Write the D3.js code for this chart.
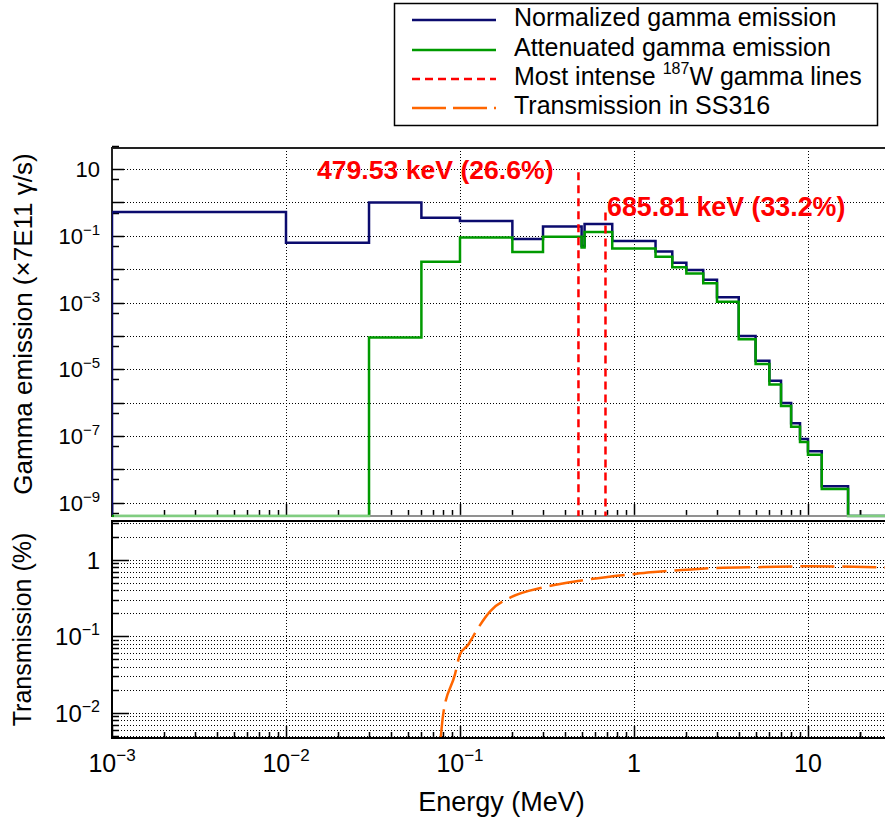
<!DOCTYPE html>
<html>
<head>
<meta charset="utf-8">
<script src="https://cdn.jsdelivr.net/npm/d3@7"></script>
<style>
  body { margin: 0; background: #fff; }
  svg { display: block; font-family: "Liberation Sans", Arial, Helvetica, sans-serif; }
</style>
</head>
<body>
<svg id="chart" width="885" height="821"></svg>
<script>
/* Data */
const ENERGY_EDGES = [0.001, 0.01, 0.03, 0.06, 0.1, 0.2, 0.3, 0.5, 0.52, 0.75, 1.33, 1.66,
    2.0, 2.5, 3.0, 4.0, 5.0, 6.0, 7.0, 8.0, 9.0, 10.0, 12.0, 17.0];
const NORMALIZED = [0.52, 0.062, 1.0, 0.35, 0.28, 0.08, 0.19, 0.05, 0.225, 0.07, 0.034, 0.0157,
    0.0095, 0.0048, 0.00145, 1.0e-4, 1.8e-5, 4.5e-6, 9.7e-7, 2.4e-7, 8.1e-8, 3.5e-8, 3.1e-9];
const ATTENUATED = [0, 0, 9e-5, 0.0168, 0.09, 0.033, 0.094, 0.045, 0.13, 0.042, 0.0237, 0.0114,
    0.0075, 0.0038, 0.00106, 7.9e-5, 1.44e-5, 3.5e-6, 8e-7, 1.9e-7, 6.6e-8, 2.75e-8, 2.6e-9];

const TRANS_ENERGY = [0.077, 0.080, 0.0935, 0.1, 0.1117, 0.119, 0.149, 0.198, 0.301, 0.49, 1.0, 1.24, 2.0, 3.0, 5.5, 10, 30];
const TRANSMISSION = [0.004, 0.0095, 0.0316, 0.058, 0.078, 0.1, 0.212, 0.326, 0.435, 0.532, 0.65, 0.684, 0.74, 0.78, 0.80, 0.82, 0.79];

const GAMMA_LINES = [0.47953, 0.68581];
const GAMMA_LINE_TOP = [8, 0.5];
const GAMMA_LABELS = ['479.53 keV (26.6%)', '685.81 keV (33.2%)'];

const X_DECADES = [-3, -2, -1, 0, 1];
const TOP_Y_LABELS = [1, -1, -3, -5, -7, -9];
const BOT_Y_LABELS = [0, -1, -2];

/* Layout */
const LEFT = 112, RIGHT = 891;
const TOP_T = 148, TOP_B = 516;
const BOT_T = 521, BOT_B = 738;

const svg = d3.select('#chart');

const x = d3.scaleLog().domain([1e-3, 30]).range([LEFT, RIGHT]);
const yTop = d3.scaleLog().domain([4e-10, 43]).range([TOP_B, TOP_T]);
const yBot = d3.scaleLog().domain([0.0047, 3.2]).range([BOT_B, BOT_T]);

// snap to pixel centre so 1px dotted lines stay crisp
const px = v => Math.round(v) + 0.5;

const defs = svg.append('defs');
defs.append('clipPath').attr('id', 'clipTop').append('rect')
    .attr('x', LEFT).attr('y', TOP_T).attr('width', RIGHT - LEFT).attr('height', TOP_B - TOP_T + 1.5);
defs.append('clipPath').attr('id', 'clipBot').append('rect')
    .attr('x', LEFT).attr('y', BOT_T).attr('width', RIGHT - LEFT).attr('height', BOT_B - BOT_T);

// helper: 10^k label with superscript
function powLabel(sel, k, supSize, supDy) {
    if (k === 0) { sel.text('1'); return; }
    if (k === 1) { sel.text('10'); return; }
    sel.append('tspan').text('10');
    sel.append('tspan').attr('font-size', supSize).attr('dy', supDy).text('\u2212' + Math.abs(k));
}

const GRID_DASH = '1,2';

/* ---------- top panel ---------- */
const topPanel = svg.append('g');

// grid
const topDecades = d3.range(-9, 2);
topPanel.selectAll('.hgrid').data(topDecades).enter().append('line')
    .attr('x1', LEFT).attr('x2', RIGHT)
    .attr('y1', d => px(yTop(Math.pow(10, d)))).attr('y2', d => px(yTop(Math.pow(10, d))))
    .attr('stroke', '#000').attr('stroke-width', 1).attr('stroke-dasharray', GRID_DASH)
    .attr('shape-rendering', 'crispEdges');
topPanel.selectAll('.vgrid').data(X_DECADES.slice(1)).enter().append('line')
    .attr('x1', d => px(x(Math.pow(10, d)))).attr('x2', d => px(x(Math.pow(10, d))))
    .attr('y1', TOP_T).attr('y2', TOP_B)
    .attr('stroke', '#000').attr('stroke-width', 1).attr('stroke-dasharray', GRID_DASH)
    .attr('shape-rendering', 'crispEdges');

// frame
topPanel.append('path').attr('d', `M${RIGHT},${TOP_T}H${LEFT}V${TOP_B}H${RIGHT}`)
    .attr('fill', 'none').attr('stroke', '#222').attr('stroke-width', 2);

// y ticks
topPanel.selectAll('.ytick').data(topDecades).enter().append('line')
    .attr('x1', LEFT).attr('x2', LEFT + 12)
    .attr('y1', d => px(yTop(Math.pow(10, d)))).attr('y2', d => px(yTop(Math.pow(10, d))))
    .attr('stroke', '#000').attr('stroke-width', 1.5);
topPanel.selectAll('.ytick5').data(d3.range(-10, 2)).enter().append('line')
    .attr('x1', LEFT).attr('x2', LEFT + 7)
    .attr('y1', d => px(yTop(5 * Math.pow(10, d)))).attr('y2', d => px(yTop(5 * Math.pow(10, d))))
    .attr('stroke', '#000').attr('stroke-width', 1.5);

// x ticks (both panels)
const xTicks = [];
X_DECADES.forEach(k => d3.range(1, 10).forEach(m => {
    const v = m * Math.pow(10, k);
    if (v <= 30) xTicks.push({ v: v, major: m === 1 });
}));
xTicks.push({ v: 20, major: false }, { v: 30, major: false });

function drawXTicks(g, yBase) {
    g.selectAll('.xt').data(xTicks).enter().append('line')
        .attr('x1', d => px(x(d.v))).attr('x2', d => px(x(d.v)))
        .attr('y1', yBase).attr('y2', d => yBase - (d.major ? 12 : 6))
        .attr('stroke', '#000').attr('stroke-width', 1.5);
}
drawXTicks(topPanel, TOP_B);

// histograms (drawn over the frame, like the original)
function stepPoints(vals, floorY) {
    const pts = [[x(ENERGY_EDGES[0]), floorY]];
    vals.forEach((v, i) => {
        const yy = v > 0 ? yTop(v) : floorY;
        pts.push([x(ENERGY_EDGES[i]), yy]);
        pts.push([x(ENERGY_EDGES[i + 1]), yy]);
    });
    pts.push([x(ENERGY_EDGES[ENERGY_EDGES.length - 1]), floorY]);
    pts.push([RIGHT, floorY]);
    return pts;
}
const line = d3.line();
const hist = topPanel.append('g').attr('clip-path', 'url(#clipTop)');
hist.append('path').attr('d', line(stepPoints(NORMALIZED, TOP_B)))
    .attr('fill', 'none').attr('stroke', '#0b0b6e').attr('stroke-width', 2.5);
hist.append('path').attr('d', line(stepPoints(ATTENUATED, TOP_B)))
    .attr('fill', 'none').attr('stroke', '#009a00').attr('stroke-width', 2.5);
// the zero level sits on the axis and looks paler in the original
hist.append('line').attr('x1', LEFT + 2).attr('x2', RIGHT).attr('y1', TOP_B).attr('y2', TOP_B)
    .attr('stroke', '#fff').attr('stroke-opacity', 0.5).attr('stroke-width', 2.5);

// gamma lines
hist.selectAll('.gline').data(GAMMA_LINES).enter().append('line')
    .attr('x1', d => x(d)).attr('x2', d => x(d))
    .attr('y1', (d, i) => yTop(GAMMA_LINE_TOP[i])).attr('y2', TOP_B)
    .attr('stroke', '#ff0000').attr('stroke-width', 2.5).attr('stroke-dasharray', '8,5');

topPanel.selectAll('.glabel').data(GAMMA_LABELS).enter().append('text')
    .attr('x', (d, i) => [317, 607][i]).attr('y', (d, i) => [179, 216][i])
    .attr('font-size', (d, i) => [26.6, 26.8][i]).attr('font-weight', 'bold').attr('fill', '#ff0000')
    .text(d => d);

topPanel.selectAll('.ylab').data(TOP_Y_LABELS).enter().append('text')
    .attr('x', 100).attr('y', d => yTop(Math.pow(10, d)) + 8)
    .attr('text-anchor', 'end').attr('font-size', 22)
    .each(function (d) { powLabel(d3.select(this), d, 15, -9); });

// y title
topPanel.append('text')
    .attr('transform', `translate(32,${(TOP_T + 500) / 2}) rotate(-90)`)
    .attr('text-anchor', 'middle').attr('font-size', 26)
    .text('Gamma emission (\u00d77E11 \u03b3/s)');

/* ---------- bottom panel ---------- */
const botPanel = svg.append('g');

const botGridVals = [];
[-3, -2, -1, 0].forEach(k => d3.range(1, 10).forEach(m => {
    const v = m * Math.pow(10, k);
    if (v >= 0.0047 && v <= 3.2) botGridVals.push({ v: v, major: m === 1 });
}));

botPanel.selectAll('.hgrid').data(botGridVals).enter().append('line')
    .attr('x1', LEFT).attr('x2', RIGHT)
    .attr('y1', d => px(yBot(d.v))).attr('y2', d => px(yBot(d.v)))
    .attr('stroke', '#000').attr('stroke-width', 1).attr('stroke-dasharray', GRID_DASH)
    .attr('shape-rendering', 'crispEdges');
botPanel.selectAll('.vgrid').data(X_DECADES.slice(1)).enter().append('line')
    .attr('x1', d => px(x(Math.pow(10, d)))).attr('x2', d => px(x(Math.pow(10, d))))
    .attr('y1', BOT_T).attr('y2', BOT_B)
    .attr('stroke', '#000').attr('stroke-width', 1).attr('stroke-dasharray', GRID_DASH)
    .attr('shape-rendering', 'crispEdges');

// transmission curve
const transLine = d3.line()
    .x((d, i) => x(TRANS_ENERGY[i]))
    .y(d => yBot(d))
    .curve(d3.curveMonotoneX);
botPanel.append('g').attr('clip-path', 'url(#clipBot)').append('path')
    .attr('d', transLine(TRANSMISSION))
    .attr('fill', 'none').attr('stroke', '#ff6600').attr('stroke-width', 2.5)
    .attr('stroke-dasharray', '34,8');

// frame
botPanel.append('path').attr('d', `M${RIGHT},${BOT_T}H${LEFT}V${BOT_B}H${RIGHT}`)
    .attr('fill', 'none').attr('stroke', '#000').attr('stroke-width', 2);

botPanel.selectAll('.ytick').data(botGridVals).enter().append('line')
    .attr('x1', LEFT).attr('x2', d => LEFT + (d.major ? 17 : 7))
    .attr('y1', d => px(yBot(d.v))).attr('y2', d => px(yBot(d.v)))
    .attr('stroke', '#000').attr('stroke-width', 1.5);

botPanel.selectAll('.ylab').data(BOT_Y_LABELS).enter().append('text')
    .attr('x', 100).attr('y', d => yBot(Math.pow(10, d)) + 9)
    .attr('text-anchor', 'end').attr('font-size', 24)
    .each(function (d) { powLabel(d3.select(this), d, 16, -10); });

drawXTicks(botPanel, BOT_B);

botPanel.selectAll('.xlab').data(X_DECADES).enter().append('text')
    .attr('x', d => x(Math.pow(10, d))).attr('y', 772)
    .attr('text-anchor', 'middle').attr('font-size', 25)
    .each(function (d) { powLabel(d3.select(this), d, 17, -11); });

botPanel.append('text')
    .attr('transform', `translate(31,${(BOT_T + BOT_B) / 2}) rotate(-90)`)
    .attr('text-anchor', 'middle').attr('font-size', 25)
    .text('Transmission (%)');

botPanel.append('text')
    .attr('x', (LEFT + RIGHT) / 2).attr('y', 811)
    .attr('text-anchor', 'middle').attr('font-size', 27)
    .text('Energy (MeV)');

/* ---------- legend ---------- */
const LEGEND = [
    { label: 'Normalized gamma emission', color: '#0b0b6e', dash: null },
    { label: 'Attenuated gamma emission', color: '#009a00', dash: null },
    { label: 'Most intense ', sup: '187', rest: 'W gamma lines', color: '#ff0000', dash: '8,5' },
    { label: 'Transmission in SS316', color: '#ff6600', dash: '34,7' }
];
const legend = svg.append('g');
legend.append('rect').attr('x', 394.5).attr('y', 3.5).attr('width', 483).attr('height', 122)
    .attr('fill', '#fff').attr('stroke', '#000').attr('stroke-width', 1.5);
const rows = legend.selectAll('.row').data(LEGEND).enter().append('g')
    .attr('transform', (d, i) => `translate(0,${[20, 50, 79, 108][i]})`);
rows.append('line').attr('x1', 412).attr('x2', 496)
    .attr('stroke', d => d.color).attr('stroke-width', 2.5)
    .attr('stroke-dasharray', d => d.dash);
rows.append('text').attr('x', 514).attr('y', 6).attr('font-size', 25)
    .each(function (d) {
        const t = d3.select(this);
        t.append('tspan').text(d.label);
        if (d.sup) {
            t.append('tspan').attr('font-size', 16).attr('dy', -11).text(d.sup);
            t.append('tspan').attr('dy', 11).text(d.rest);
        }
    });
</script>
</body>
</html>
